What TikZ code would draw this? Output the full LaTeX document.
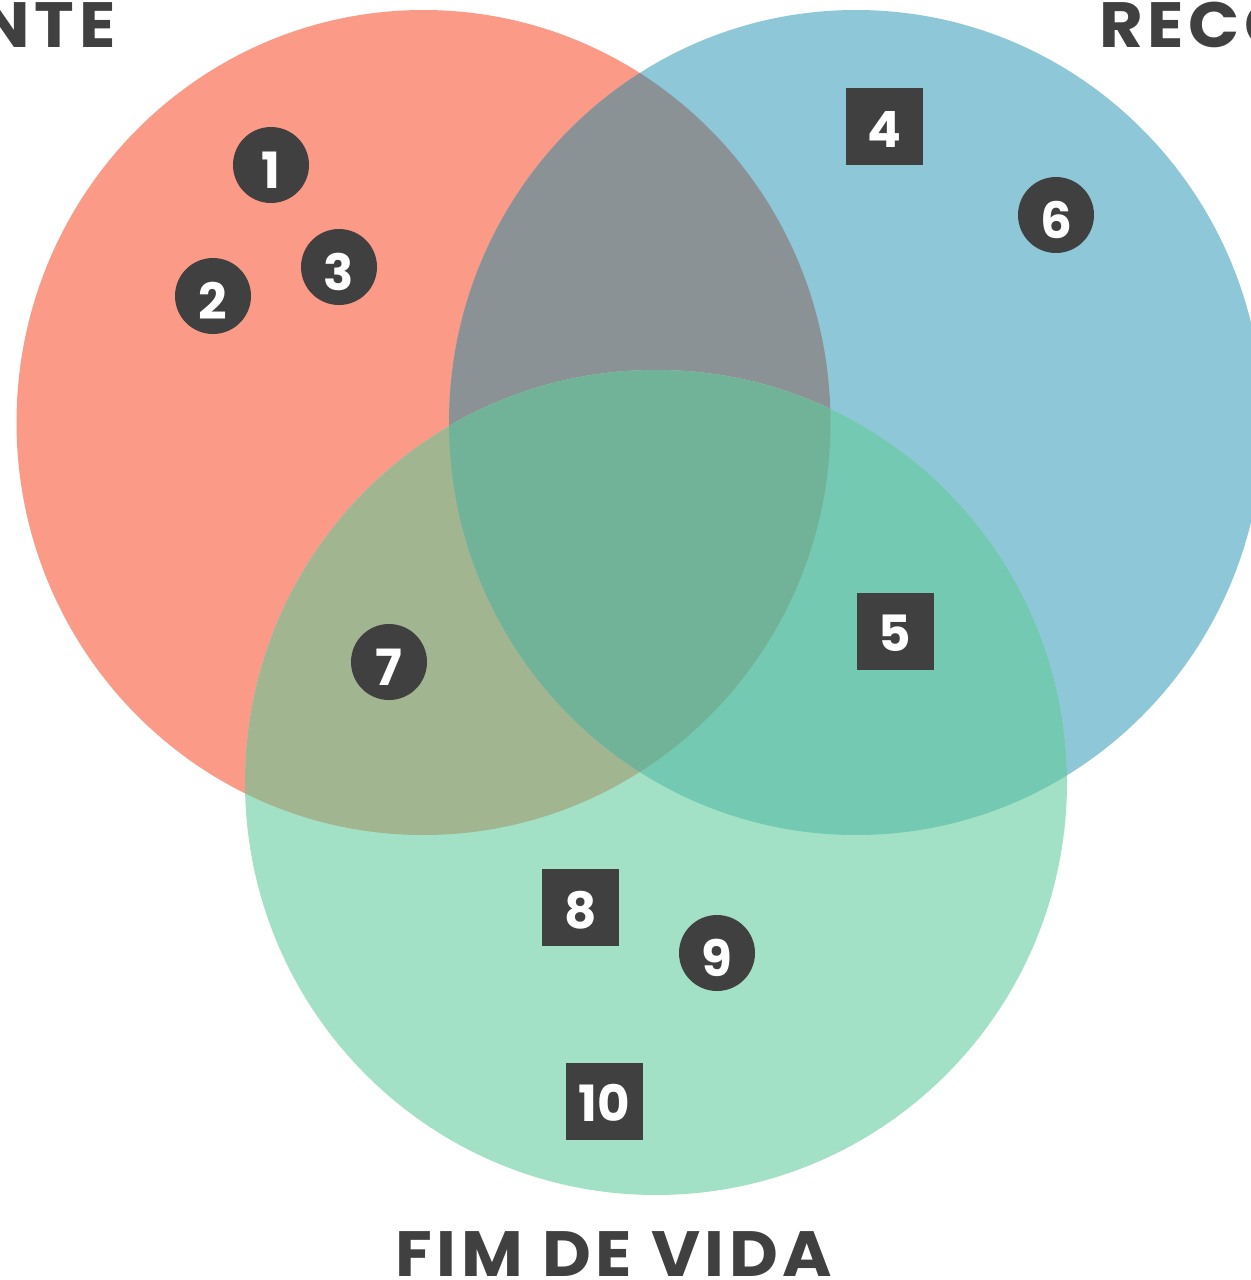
\documentclass[tikz,border=0pt]{standalone}
\usepackage{fontspec}
\setmainfont{Poppins}
\newfontfamily\titlefont[LetterSpace=7]{Poppins}
\definecolor{cR}{HTML}{FC9A88}
\definecolor{cB}{HTML}{8EC8D8}
\definecolor{cG}{HTML}{A2E1C5}
\definecolor{cRB}{HTML}{8A9296}
\definecolor{cRG}{HTML}{A1B690}
\definecolor{cBG}{HTML}{73C9B2}
\definecolor{cRGB}{HTML}{71B398}
\definecolor{badge}{HTML}{404040}
\tikzset{
  cbadge/.style={circle, fill=badge, minimum size=38pt, inner sep=0pt},
  sbadge/.style={rectangle, fill=badge, minimum size=38.5pt, inner sep=0pt},
  num/.style={text=white, font=\fontsize{25}{25}\selectfont\bfseries, inner sep=0pt, anchor=base},
  title/.style={text=badge, font=\titlefont\fontsize{32}{32}\selectfont\bfseries, inner sep=0pt},
}
\newcommand\widetxt[1]{\scalebox{1.05}[1]{#1}}
\begin{document}
\begin{tikzpicture}[x=0.5pt,y=-0.5pt]
\useasboundingbox (0,0) rectangle (1251,1280);
\clip (0,0) rectangle (1251,1280);
% red
\fill[cR] (423.5,422.5) ellipse [x radius=407, y radius=412.5];
% blue
\fill[cB] (856,422.5) ellipse [x radius=407, y radius=412.5];
\begin{scope}
  \clip (423.5,422.5) ellipse [x radius=407, y radius=412.5];
  \fill[cRB] (856,422.5) ellipse [x radius=407, y radius=412.5];
\end{scope}
% green
\fill[cG] (656,782.5) ellipse [x radius=411, y radius=412.5];
\begin{scope}
  \clip (656,782.5) ellipse [x radius=411, y radius=412.5];
  \fill[cBG] (856,422.5) ellipse [x radius=407, y radius=412.5];
  \fill[cRG] (423.5,422.5) ellipse [x radius=407, y radius=412.5];
  \begin{scope}
    \clip (423.5,422.5) ellipse [x radius=407, y radius=412.5];
    \fill[cRGB] (856,422.5) ellipse [x radius=407, y radius=412.5];
  \end{scope}
\end{scope}
% titles
\node[title, anchor=base east] (tl) at (116,47) {\widetxt{NTE}};
\node[title, anchor=base west] (tr) at (1099,47) {\widetxt{RECO}};
\node[title, anchor=base] (fim) at (614,1276) {\widetxt{FIM DE VIDA}};
% circle badges
\node[cbadge] (b1) at (271,165) {};   \node[num] (n1) at (271,188) {1};
\node[cbadge] (b2) at (213,296) {};   \node[num] (n2) at (213,319) {2};
\node[cbadge] (b3) at (339,267) {};   \node[num] (n3) at (339,290) {3};
\node[cbadge] (b6) at (1056,215) {};  \node[num] (n6) at (1056,238) {6};
\node[cbadge] (b7) at (389,662) {};   \node[num] (n7) at (389,685) {7};
\node[cbadge] (b9) at (717,953) {};   \node[num] (n9) at (717,976) {9};
% square badges
\node[sbadge] (b4) at (884.5,126.5) {};  \node[num] (n4) at (884.5,147) {4};
\node[sbadge] (b5) at (895,631) {};      \node[num] (n5) at (895,651.5) {5};
\node[sbadge] (b8) at (580.5,907.3) {};  \node[num] (n8) at (580.5,928) {8};
\node[sbadge] (b10) at (604.5,1101.3) {}; \node[num] (n10) at (604.5,1121) {10};
\end{tikzpicture}
\end{document}
